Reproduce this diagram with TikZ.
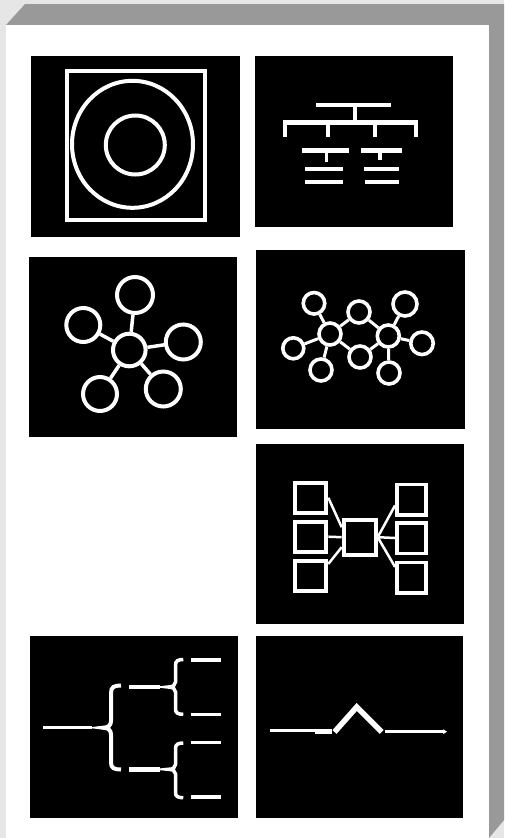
\documentclass[tikz,border=0pt]{standalone}
\usetikzlibrary{arrows.meta}
\definecolor{lightbg}{HTML}{E6E6E6}
\definecolor{bevel}{HTML}{999999}
\begin{document}
\begin{tikzpicture}[x=1pt,y=-1pt,
  panel/.style={fill=black},
  wl/.style={draw=white,line width=#1,line cap=butt},
  ringA/.style={circle,draw=white,line width=4pt,inner sep=0pt,minimum size=#1},
  ringB/.style={circle,draw=white,line width=3.6pt,inner sep=0pt,minimum size=#1},
  lbox/.style={rectangle,draw=white,line width=4pt,inner sep=0pt,minimum width=31pt,minimum height=30pt},
  cbox/.style={rectangle,draw=white,line width=4pt,inner sep=0pt,minimum width=32pt,minimum height=35pt},
  rbox/.style={rectangle,draw=white,line width=3.5pt,inner sep=0pt,minimum width=29pt,minimum height=30.5pt},
  link/.style={draw=white,line width=#1}]
\useasboundingbox (0,0) rectangle (504,838);
% frame
\fill[lightbg] (0,0) rectangle (504,838);
\fill[bevel] (6,25) -- (25,4) -- (504,4) -- (504,820) -- (489,838) -- (489,25) -- cycle;
\fill[white] (6,25) rectangle (489,838);
% panels
\fill[panel] (31,56) rectangle (240,237);
\fill[panel] (255,56) rectangle (453,227);
\fill[panel] (29,257) rectangle (237,437);
\fill[panel] (256,250) rectangle (465,429);
\fill[panel] (256,444) rectangle (464,624);
\fill[panel] (30,636) rectangle (238,818);
\fill[panel] (256,636) rectangle (463,818);

% panel 1: square with rings
\draw[wl=4pt] (67,70.7) rectangle (204.7,219.7);
\draw[wl=4pt] (132.5,144.3) ellipse [x radius=60.5, y radius=63.5];
\draw[wl=4pt] (135.3,145) circle [radius=29.5];

% panel 2: hierarchy
\draw[wl=4.5pt] (316,105) -- (391,105);
\draw[wl=4pt] (355,107) -- (355,122);
\draw[wl=4.5pt] (283,122.5) -- (418,122.5);
\draw[wl=4pt] (285,122.5) -- (285,137);
\draw[wl=4pt] (327.5,122.5) -- (327.5,137);
\draw[wl=4pt] (374.5,122.5) -- (374.5,137);
\draw[wl=4pt] (415.5,122.5) -- (415.5,137);
\draw[wl=4.5pt] (302,150.5) -- (349,150.5);
\draw[wl=4.5pt] (361,150.5) -- (402,150.5);
\draw[wl=3.5pt] (326.5,152) -- (326.5,162);
\draw[wl=3.5pt] (380,152) -- (380,160);
\draw[wl=4.5pt] (305,169) -- (343,169);
\draw[wl=4.5pt] (364,169) -- (399,169);
\draw[wl=4.5pt] (305,182) -- (343,182);
\draw[wl=4.5pt] (365,182) -- (399,182);

% panel 3: star of circles
\node[ringA=32.6pt] (s0) at (129.3,350) {};
\node[ringA=36pt] (s1) at (135,295) {};
\node[ringA=34pt] (s2) at (83.3,325) {};
\node[ringA=35pt] (s3) at (183.3,342) {};
\node[ringA=34pt] (s4) at (100,394) {};
\node[ringA=35pt] (s5) at (163.3,389) {};
\foreach \t in {s1,s2,s3,s4,s5} \draw[link=3.5pt] (s0) -- (\t);

% panel 4: two hubs
\node[ringB=21.5pt] (c1) at (314,303.3) {};
\node[ringB=22pt] (h1) at (330,334) {};
\node[ringB=22pt] (c2) at (359,312) {};
\node[ringB=22pt] (h2) at (388.3,336) {};
\node[ringB=24pt] (c3) at (405,304) {};
\node[ringB=21pt] (c4) at (293.3,348.3) {};
\node[ringB=22pt] (c5) at (321,370) {};
\node[ringB=22pt] (c6) at (360,357) {};
\node[ringB=22.5pt] (c7) at (422,343.3) {};
\node[ringB=22pt] (c8) at (389,373) {};
\foreach \t in {c1,c2,c4,c5,c6} \draw[link=3pt] (h1) -- (\t);
\foreach \t in {c2,c3,c6,c7,c8} \draw[link=3pt] (h2) -- (\t);

% panel 5: boxes
\node[lbox] (l1) at (310.8,497.7) {};
\node[lbox] (l2) at (310.8,536.7) {};
\node[lbox] (l3) at (310.8,576.2) {};
\node[cbox] (cc) at (359.7,537.2) {};
\node[rbox] (r1) at (411.3,499.5) {};
\node[rbox] (r2) at (411.3,538) {};
\node[rbox] (r3) at (411.3,577.5) {};
\draw[link=2.5pt] (l1.east) -- (cc.151);
\draw[link=2.5pt] (l2.east) -- (cc.west);
\draw[link=2.5pt] (l3.35) -- (cc.209);
\draw[link=2.5pt] (cc.east) -- (r1.200);
\draw[link=2.5pt] (cc.east) -- (r2.west);
\draw[link=2.5pt] (cc.east) -- (r3.147);

% panel 6: braces
\draw[wl=3pt] (43.3,727.7) -- (91.7,727.7);
\draw[draw=white,line width=4pt]
  (121,685.5) .. controls (114,685.5) and (111,687) .. (111,693) -- (111,721)
  .. controls (111,725.5) and (108,727.7) .. (103,727.7)
  .. controls (108,727.7) and (111,730) .. (111,734.5) -- (111,762.5)
  .. controls (111,768) and (114,769.5) .. (121,769.5);
\draw[wl=4.5pt] (129,687) -- (160,687);
\draw[wl=4.5pt] (129,769.3) -- (160,769.3);
\draw[draw=white,line width=3.5pt]
  (183.3,659.5) .. controls (178,659.5) and (175.5,661) .. (175.5,665) -- (175.5,682)
  .. controls (175.5,685) and (173,687) .. (168.3,687)
  .. controls (173,687) and (175.5,689) .. (175.5,692) -- (175.5,709)
  .. controls (175.5,713) and (178,714.3) .. (183.3,714.3);
\draw[draw=white,line width=3.5pt]
  (183.3,743) .. controls (178,743) and (175.5,744.5) .. (175.5,748.5) -- (175.5,764.5)
  .. controls (175.5,767.5) and (173,769.3) .. (168.3,769.3)
  .. controls (173,769.3) and (175.5,771) .. (175.5,774) -- (175.5,792.5)
  .. controls (175.5,796.5) and (178,797.7) .. (183.3,797.7);
\draw[wl=3.5pt] (190.7,660) -- (220.7,660);
\draw[wl=3.5pt] (190.7,714.3) -- (220.7,714.3);
\draw[wl=3.5pt] (190.7,742.7) -- (220.7,742.7);
\draw[wl=3.5pt] (190.7,797) -- (220.7,797);

% panel 7: line with caret
\draw[wl=3pt] (270,730.7) -- (316,730.7);
\draw[wl=4.5pt] (315,731.5) -- (331.7,731.5);
\draw[draw=white,line width=5.5pt,line join=miter] (334.5,732) -- (356.7,707) -- (381.7,732);
\draw[draw=white,line width=3.5pt,-{Stealth[length=4pt,width=5pt]}] (385,731.7) -- (447,731.7);
\end{tikzpicture}
\end{document}
